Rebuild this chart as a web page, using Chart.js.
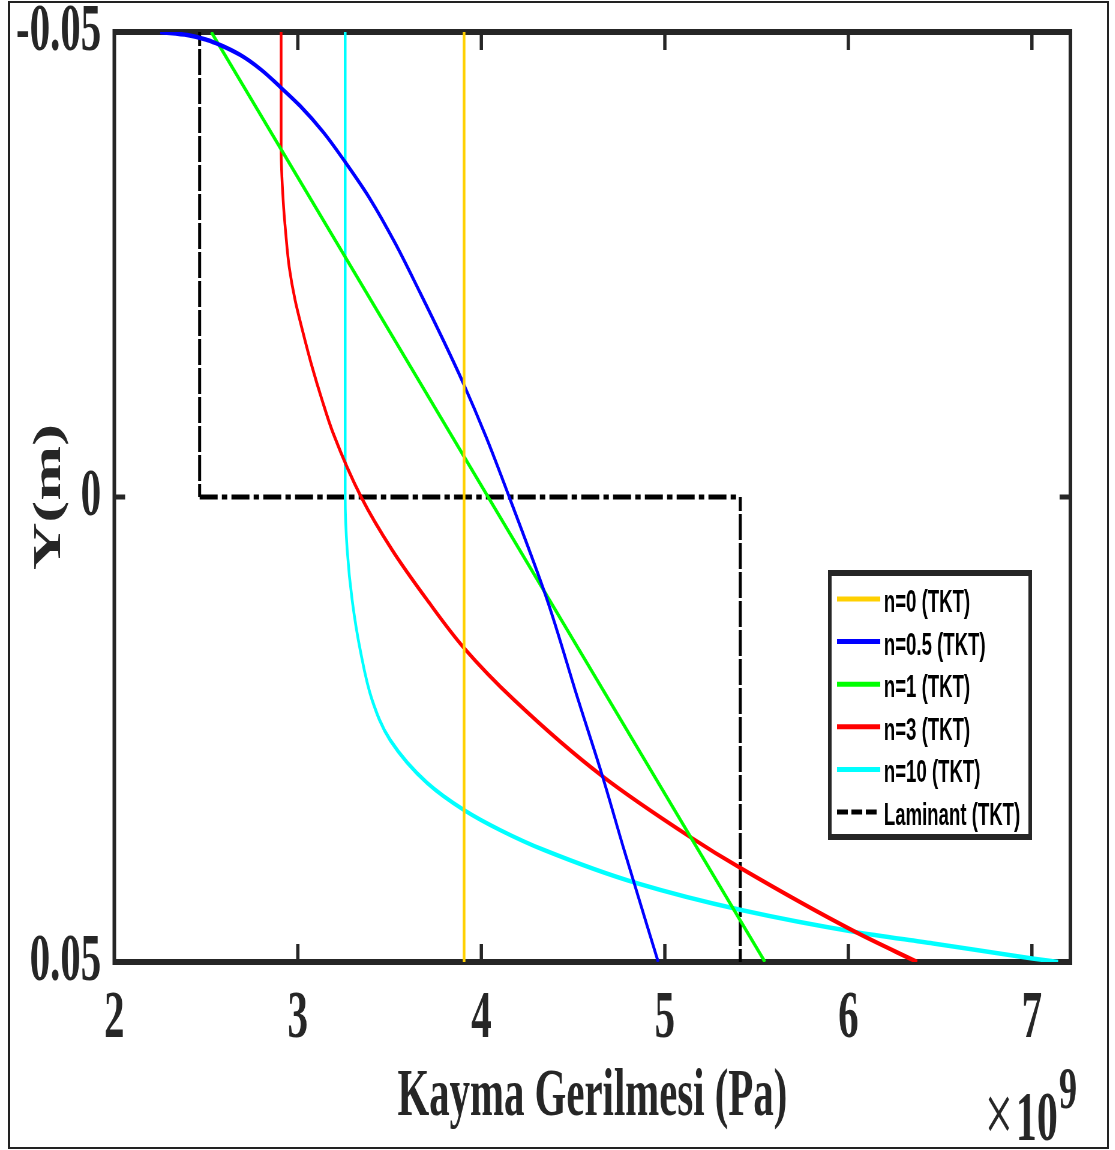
<!DOCTYPE html>
<html>
<head>
<meta charset="utf-8">
<script src="https://cdn.jsdelivr.net/npm/chart.js@4/dist/chart.umd.min.js"></script>
<style>
html,body{margin:0;padding:0;background:#fff;overflow:hidden;}
#wrap{position:relative;width:1115px;height:1150px;overflow:hidden;background:#fff;}
#c{position:absolute;left:0;top:0;transform:scaleX(0.6);transform-origin:0 0;}
#frame{position:absolute;left:8px;top:1px;width:1101px;height:1148px;border:2px solid #222;box-sizing:border-box;pointer-events:none;}
</style>
</head>
<body>
<div id="wrap"><canvas id="c" width="1858" height="1150"></canvas><div id="frame"></div></div>
<script>
// ---- data (shear stress in units of 1e9 Pa, Y in m) ----
const seriesLabels = ['n=0 (TKT)', 'n=0.5 (TKT)', 'n=1 (TKT)', 'n=3 (TKT)', 'n=10 (TKT)', 'Laminant (TKT)'];
const seriesColors = ['#FFD000', '#0000FF', '#00FF00', '#FF0000', '#00FFFF', '#000000'];

const n0Stress = [3.906, 3.906];
const n0Y = [-0.05, 0.05];

const n05Stress = [2.250, 2.397, 2.506, 2.577, 2.686, 2.795, 2.904, 3.013, 3.138, 3.258, 3.394, 3.530, 3.667, 3.792, 3.901, 4.026, 4.152, 4.359, 4.528, 4.658, 4.778, 4.964];
const n05Y = [-0.0500, -0.04968, -0.04914, -0.04860, -0.04753, -0.04602, -0.04409, -0.04204, -0.03925, -0.03602, -0.03204, -0.02731, -0.02194, -0.01688, -0.01226, -0.00645, 0.0000, 0.01108, 0.02183, 0.02989, 0.03796, 0.0500];

const n1Stress = [2.528, 5.546];
const n1Y = [-0.05, 0.05];

const n3Stress = [2.909, 2.909, 2.920, 2.934, 2.953, 2.985, 3.029, 3.078, 3.132, 3.192, 3.345, 3.514, 3.705, 3.906, 4.179, 4.658, 5.138, 5.411, 6.038, 6.375];
const n3Y = [-0.0500, -0.03731, -0.03194, -0.02839, -0.02473, -0.02118, -0.01763, -0.01398, -0.01043, -0.00688, 0.0000, 0.00570, 0.01108, 0.01624, 0.02183, 0.0300, 0.03656, 0.03989, 0.04677, 0.0500];

const n10Stress = [3.258, 3.258, 3.269, 3.296, 3.340, 3.405, 3.503, 3.705, 3.906, 4.103, 4.342, 4.844, 5.416, 6.037, 6.462, 7.002, 7.143];
const n10Y = [-0.0500, 0.0000, 0.00570, 0.01108, 0.01645, 0.02183, 0.02613, 0.03075, 0.03366, 0.03581, 0.03796, 0.04151, 0.04441, 0.04677, 0.04801, 0.04962, 0.0500];

const laminarStress = [2.465, 2.465, 5.411, 5.411];
const laminarY = [-0.05, 0.0, 0.0, 0.05];

const xTickValues = [2, 3, 4, 5, 6, 7];
const xTickLabels = ['2', '3', '4', '5', '6', '7'];
const yTickValues = [-0.05, 0, 0.05];
const yTickLabels = ['-0.05', '0', '0.05'];
const xMin = 2, xMax = 7.21, yMin = -0.05, yMax = 0.05;
const xTitle = 'Kayma Gerilmesi (Pa)';
const yTitle = 'Y(m)';
const exponentBase = '10', exponentPower = '9';

// ---- build ----
const SERIF = '"Liberation Serif", "Times New Roman", serif';
const SANS = '"Liberation Sans", Arial, sans-serif';
const AX = '#262626';
const toPts = (xs, ys) => xs.map((v, i) => ({x: v, y: ys[i]}));
const allX = [n0Stress, n05Stress, n1Stress, n3Stress, n10Stress, laminarStress];
const allY = [n0Y, n05Y, n1Y, n3Y, n10Y, laminarY];

const datasets = allX.map((xs, i) => {
  const ds = {
    label: seriesLabels[i],
    data: toPts(xs, allY[i]),
    borderColor: seriesColors[i],
    backgroundColor: seriesColors[i],
    borderWidth: 4.5,
    showLine: true,
    pointRadius: 0,
    pointHoverRadius: 0,
    indexAxis: 'y',
    cubicInterpolationMode: 'monotone',
    fill: false
  };
  if (i === 5) {
    ds.cubicInterpolationMode = 'default';
    ds.tension = 0;
    ds.borderWidth = 5;
    ds.segment = {
      borderDash: c => (Math.abs(c.p0.x - c.p1.x) < 0.5 ? [14, 5, 5, 5] : [30, 7, 9, 7])
    };
  }
  return ds;
});

const framePlugin = {
  id: 'framePlugin',
  beforeDatasetsDraw(chart) {
    const {ctx, chartArea: a, scales: {x, y}} = chart;
    ctx.save();
    ctx.strokeStyle = AX;
    ctx.lineCap = 'butt';
    ctx.lineWidth = 5.5;
    xTickValues.forEach(v => {
      const px = x.getPixelForValue(v);
      if (px <= a.left + 2 || px >= a.right - 2) return;
      ctx.beginPath();
      ctx.moveTo(px, a.bottom); ctx.lineTo(px, a.bottom - 18);
      ctx.moveTo(px, a.top); ctx.lineTo(px, a.top + 18);
      ctx.stroke();
    });
    ctx.lineWidth = 5;
    yTickValues.forEach(v => {
      const py = y.getPixelForValue(v);
      if (py <= a.top + 2 || py >= a.bottom - 2) return;
      ctx.beginPath();
      ctx.moveTo(a.left, py); ctx.lineTo(a.left + 18, py);
      ctx.moveTo(a.right, py); ctx.lineTo(a.right - 18, py);
      ctx.stroke();
    });
    ctx.lineWidth = 6;
    ctx.strokeRect(a.left, a.top, a.right - a.left, a.bottom - a.top);
    ctx.restore();
  },
  afterDraw(chart) {
    const {ctx} = chart;
    ctx.save();
    // legend box
    const bx1 = 1383, bx2 = 1717, by1 = 573, by2 = 837;
    ctx.fillStyle = '#fff';
    ctx.fillRect(bx1, by1, bx2 - bx1, by2 - by1);
    ctx.strokeStyle = AX;
    ctx.lineWidth = 6;
    ctx.strokeRect(bx1, by1, bx2 - bx1, by2 - by1);
    chart.data.datasets.forEach((ds, i) => {
      const yl = 599 + i * 42.6;
      ctx.strokeStyle = ds.borderColor;
      ctx.lineWidth = 5;
      ctx.setLineDash(i === 5 ? [18, 6] : []);
      ctx.beginPath();
      ctx.moveTo(1395, yl); ctx.lineTo(1467, yl);
      ctx.stroke();
      ctx.setLineDash([]);
      ctx.fillStyle = '#000';
      ctx.font = 'bold 31px ' + SANS;
      ctx.textAlign = 'left';
      ctx.textBaseline = 'alphabetic';
      ctx.fillText(ds.label, 1473, yl + 13);
    });
    // exponent label
    ctx.fillStyle = AX;
    ctx.textBaseline = 'alphabetic';
    ctx.textAlign = 'left';
    ctx.font = '84px ' + SERIF;
    ctx.fillText('\u00D7', 1641, 1142);
    ctx.font = 'bold 70px ' + SERIF;
    ctx.fillText(exponentBase, 1693, 1140);
    const wBase = ctx.measureText(exponentBase).width;
    ctx.font = 'bold 60px ' + SERIF;
    ctx.fillText(exponentPower, 1693 + wBase + 2, 1108);
    ctx.restore();
  }
};

const tickFont = {family: SERIF, weight: 'bold', size: 68, lineHeight: 0.9};

new Chart(document.getElementById('c'), {
  type: 'scatter',
  data: {datasets},
  options: {
    responsive: false,
    devicePixelRatio: 1,
    animation: false,
    events: [],
    layout: {padding: {left: 0, right: 74, top: 32, bottom: 0}},
    plugins: {legend: {display: false}, tooltip: {enabled: false}},
    scales: {
      x: {
        type: 'linear', position: 'bottom', min: xMin, max: xMax,
        grid: {display: false, drawTicks: false},
        border: {display: false},
        afterBuildTicks: s => { s.ticks = xTickValues.map(v => ({value: v})); },
        afterFit: s => { s.height = 188; s.paddingLeft = 0; s.paddingRight = 0; },
        ticks: {
          color: AX, padding: 27, font: tickFont, maxRotation: 0, autoSkip: false,
          callback: (v, i) => xTickLabels[i]
        },
        title: {
          display: true, text: xTitle, color: AX,
          font: {family: SERIF, weight: 'bold', size: 68, lineHeight: 1.2},
          padding: {top: 0, bottom: 12}
        }
      },
      y: {
        type: 'linear', position: 'left', min: yMin, max: yMax, reverse: true,
        grid: {display: false, drawTicks: false},
        border: {display: false},
        afterBuildTicks: s => { s.ticks = yTickValues.map(v => ({value: v})); },
        afterFit: s => { s.width = 190.5; s.paddingTop = 0; s.paddingBottom = 0; },
        ticks: {
          color: AX, padding: 22, font: tickFont, autoSkip: false,
          callback: (v, i) => yTickLabels[i]
        },
        title: {
          display: true, text: yTitle, color: AX,
          font: {family: SERIF, weight: 'bold', size: 66, lineHeight: 1.2},
          padding: {top: 43, bottom: 0}
        }
      }
    }
  },
  plugins: [framePlugin]
});
</script>
</body>
</html>
